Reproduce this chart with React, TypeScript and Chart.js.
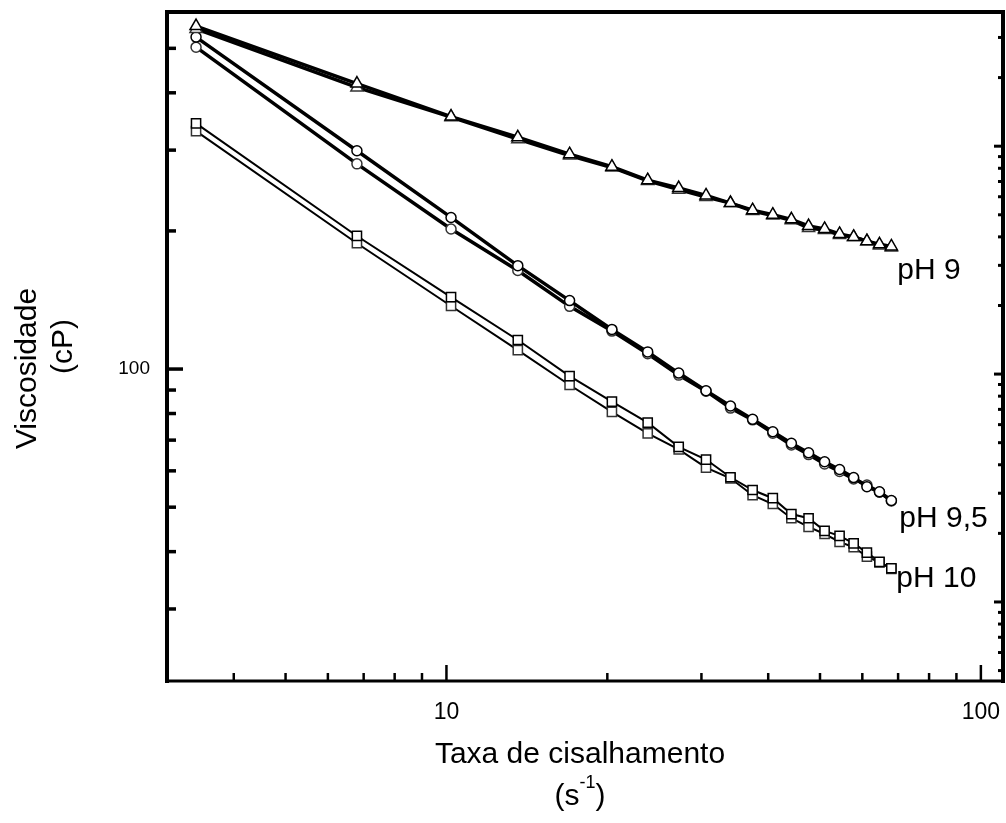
import React, { useEffect, useRef } from 'react';
import { Chart, registerables } from 'chart.js';

Chart.register(...registerables);

const FONT = '"Liberation Sans", Arial, Helvetica, sans-serif';

// Shear rate (s^-1)
const shearRate = [3.4, 6.8, 10.2, 13.6, 17, 20.4, 23.8, 27.2, 30.6, 34, 37.4, 40.8, 44.2, 47.6, 51, 54.4, 57.8, 61.2, 64.6, 68];

// Viscosity (cP), two runs per pH
const pH9Up = [559, 419, 355, 320, 294, 276, 258, 248, 239, 230, 222, 217, 212, 205, 202, 197, 194, 190, 187, 185];
const pH9Down = [551, 411, 354, 317, 292, 275, 257, 246, 237, 230, 221, 216, 211, 203, 201, 196, 194, 190, 186, 184];
const pH95Up = [529, 299, 214, 168, 141, 122, 109, 98, 89.7, 83.1, 77.7, 73.0, 68.9, 65.7, 62.8, 60.4, 58.0, 55.4, 54.0, 51.7];
const pH95Down = [503, 280, 202, 164, 137, 121, 108, 97, 89.5, 82.2, 77.5, 72.5, 68.3, 65.1, 62.1, 59.8, 57.6, 55.9, 53.9, 51.6];
const pH10Up = [343, 195, 143.5, 115.7, 96.5, 84.9, 76.4, 67.7, 63.5, 58.1, 54.5, 52.3, 48.3, 47.3, 44.4, 43.3, 41.7, 39.8, 38.0, 36.8];
const pH10Down = [330, 188, 137.2, 110, 92.3, 80.7, 72.4, 66.8, 61.0, 57.8, 53.1, 50.8, 47.3, 45.3, 43.7, 42.0, 40.9, 39.0, 37.9, 36.7];

const seriesLabels = ['pH 9', 'pH 9,5', 'pH 10'];

// Axis tick values
const xTickValues = [4, 5, 6, 7, 8, 9, 10, 20, 30, 40, 50, 60, 70, 80, 90, 100];
const xMajorTicks = [10, 100];
const yTickValues = [30, 40, 50, 60, 70, 80, 90, 100, 200, 300, 400, 500];
const yMajorTicks = [100];
const y2TickValues = [5, 6, 7, 8, 9, 10, 20, 30, 40, 50, 60, 70, 80, 90, 100, 200, 300, 400, 500, 600, 700, 800, 900, 1000, 2000, 3000];
const y2MajorTicks = [10, 100, 1000];

const xTitle = 'Taxa de cisalhamento';
const yTitle = 'Viscosidade';
const yUnit = '(cP)';

const BIG = 30;

function makeSet(label: string, values: number[], shape: string, radius: number, lineWidth: number, pointColor: string) {
  return {
    label,
    data: shearRate.map((x, i) => ({ x, y: values[i] })),
    borderColor: '#000',
    borderWidth: lineWidth,
    pointStyle: shape,
    pointRadius: radius,
    pointBackgroundColor: '#fff',
    pointBorderColor: pointColor,
    pointBorderWidth: 1.5,
    tension: 0,
    fill: false,
  };
}

const framePlugin = {
  id: 'frame',
  afterDatasetsDraw(chart: any) {
    const { ctx, chartArea: a, scales } = chart;
    ctx.save();
    ctx.strokeStyle = '#000';
    ctx.lineCap = 'butt';
    // left ticks
    ctx.lineWidth = 3.5;
    yTickValues.forEach((v) => {
      const y = scales.y.getPixelForValue(v);
      const len = yMajorTicks.includes(v) ? 16 : 9;
      ctx.beginPath();
      ctx.moveTo(a.left, y);
      ctx.lineTo(a.left + len, y);
      ctx.stroke();
    });
    // right ticks
    ctx.lineWidth = 3;
    y2TickValues.forEach((v) => {
      const y = scales.y2.getPixelForValue(v);
      if (y < a.top || y > a.bottom) return;
      const len = y2MajorTicks.includes(v) ? 9 : 5;
      ctx.beginPath();
      ctx.moveTo(a.right, y);
      ctx.lineTo(a.right - len, y);
      ctx.stroke();
    });
    // bottom ticks
    ctx.lineWidth = 2.5;
    xTickValues.forEach((v) => {
      const x = scales.x.getPixelForValue(v);
      const len = xMajorTicks.includes(v) ? 16 : 8;
      ctx.beginPath();
      ctx.moveTo(x, a.bottom);
      ctx.lineTo(x, a.bottom - len);
      ctx.stroke();
    });
    // frame
    ctx.lineWidth = 4;
    ctx.beginPath();
    ctx.moveTo(a.left, a.top);
    ctx.lineTo(a.right, a.top);
    ctx.moveTo(a.right, a.top - 2);
    ctx.lineTo(a.right, a.bottom + 2);
    ctx.moveTo(a.left, a.top - 2);
    ctx.lineTo(a.left, a.bottom + 2);
    ctx.stroke();
    ctx.lineWidth = 3;
    ctx.beginPath();
    ctx.moveTo(a.left, a.bottom);
    ctx.lineTo(a.right, a.bottom);
    ctx.stroke();

    // texts
    ctx.fillStyle = '#000';
    ctx.font = `${BIG}px ${FONT}`;
    ctx.textAlign = 'center';
    ctx.textBaseline = 'middle';
    const cx = (a.left + a.right) / 2 - 5;
    ctx.fillText(xTitle, cx, a.bottom + 74);
    // (s^-1)
    const base = a.bottom + 116;
    const p1 = '(s';
    const sup = '-1';
    const p2 = ')';
    ctx.font = `${BIG}px ${FONT}`;
    const w1 = ctx.measureText(p1).width;
    const w3 = ctx.measureText(p2).width;
    ctx.font = `18px ${FONT}`;
    const w2 = ctx.measureText(sup).width;
    const total = w1 + w2 + w3;
    let sx = cx - total / 2;
    ctx.textAlign = 'left';
    ctx.font = `${BIG}px ${FONT}`;
    ctx.fillText(p1, sx, base);
    sx += w1;
    ctx.font = `18px ${FONT}`;
    ctx.fillText(sup, sx, base - 14);
    sx += w2;
    ctx.font = `${BIG}px ${FONT}`;
    ctx.fillText(p2, sx, base);

    // y title
    ctx.save();
    ctx.translate(28, (a.top + a.bottom) / 2 + 22);
    ctx.rotate(-Math.PI / 2);
    ctx.textAlign = 'center';
    ctx.fillText(yTitle, 0, 0);
    ctx.restore();
    ctx.save();
    ctx.translate(64, (a.top + a.bottom) / 2);
    ctx.rotate(-Math.PI / 2);
    ctx.textAlign = 'center';
    ctx.fillText(yUnit, 0, 0);
    ctx.restore();

    // series labels next to last points
    const offsets = [[6, 23], [8, 18], [5, 10]];
    const metas = [1, 3, 5];
    ctx.textAlign = 'left';
    ctx.font = `${BIG}px ${FONT}`;
    metas.forEach((di, i) => {
      const meta = chart.getDatasetMeta(di);
      const last = meta.data[meta.data.length - 1];
      ctx.fillText(seriesLabels[i], last.x + offsets[i][0], last.y + offsets[i][1]);
    });
    ctx.restore();
  },
};

export default function App() {
  const ref = useRef<HTMLCanvasElement | null>(null);
  useEffect(() => {
    if (!ref.current) return;
    const chart = new Chart(ref.current, {
      type: 'line',
      data: {
        datasets: [
          makeSet('pH 9 a', pH9Up, 'triangle', 7, 3.5, '#000'),
          makeSet('pH 9 b', pH9Down, 'triangle', 7, 3.5, '#333'),
          makeSet('pH 9,5 a', pH95Up, 'circle', 5, 3.5, '#000'),
          makeSet('pH 9,5 b', pH95Down, 'circle', 5, 3.5, '#333'),
          makeSet('pH 10 a', pH10Up, 'rect', 6.5, 2, '#000'),
          makeSet('pH 10 b', pH10Down, 'rect', 6.5, 2, '#333'),
        ],
      },
      options: {
        animation: false,
        responsive: false,
        devicePixelRatio: 1,
        layout: { autoPadding: false, padding: { top: 12, right: 3, left: 0, bottom: 0 } },
        plugins: { legend: { display: false }, tooltip: { enabled: false }, title: { display: false } },
        scales: {
          x: {
            type: 'logarithmic',
            position: 'bottom',
            min: 3,
            max: 110,
            afterFit: (s: any) => { s.height = 142; s.paddingLeft = 0; s.paddingRight = 0; },
            grid: { display: false, drawTicks: false, tickLength: 0 },
            border: { display: false },
            ticks: {
              autoSkip: false,
              maxRotation: 0,
              minRotation: 0,
              padding: 18,
              color: '#000',
              font: { family: FONT, size: 23 },
              callback: (v: any) => {
                const n = Number(v);
                return xMajorTicks.some((m) => Math.abs(m - n) < 1e-6) ? String(Math.round(n)) : '';
              },
            },
          },
          y: {
            type: 'logarithmic',
            position: 'left',
            min: 20.9,
            max: 600,
            afterFit: (s: any) => { s.width = 167; s.paddingTop = 0; s.paddingBottom = 0; },
            grid: { display: false, drawTicks: false, tickLength: 0 },
            border: { display: false },
            ticks: {
              autoSkip: false,
              padding: 17,
              color: '#000',
              font: { family: FONT, size: 19 },
              callback: (v: any) => {
                const n = Number(v);
                return yMajorTicks.some((m) => Math.abs(m - n) < 1e-6) ? String(Math.round(n)) : '';
              },
            },
          },
          y2: {
            type: 'logarithmic',
            position: 'right',
            display: false,
            min: 4.5,
            max: 3880,
            grid: { display: false, drawTicks: false, tickLength: 0 },
            border: { display: false },
            afterFit: (s: any) => { s.width = 0; s.paddingTop = 0; s.paddingBottom = 0; s.paddingLeft = 0; s.paddingRight = 0; },
          },
        },
      },
      plugins: [framePlugin],
    } as any);
    return () => chart.destroy();
  }, []);
  return (
    <div style={{ position: 'fixed', left: 0, top: 0, width: 1006, height: 823, background: '#fff' }}>
      <canvas ref={ref} width={1006} height={823} style={{ width: 1006, height: 823, display: 'block' }} />
    </div>
  );
}
